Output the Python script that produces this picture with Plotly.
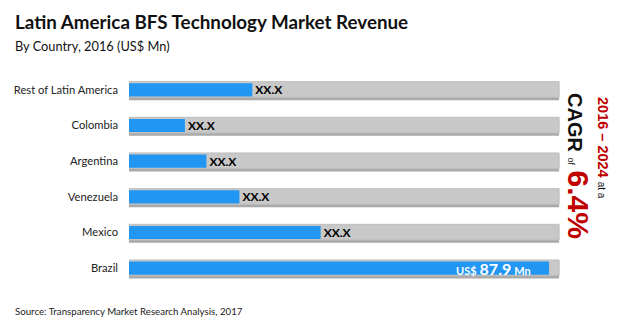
import plotly.graph_objects as go

countries = ["Rest of Latin America", "Colombia", "Argentina", "Venezuela", "Mexico", "Brazil"]
revenue = [25.8, 11.7, 16.2, 23.1, 40.1, 87.9]
track = [90.0] * 6
labels = ["<b>XX.X</b>"] * 5 + [
    "<b><span style='font-size:11px'>US$</span> <span style='font-size:16px'>87.9</span> <span style='font-size:11px'>Mn</span></b>"
    + "\u00a0" * 5]
label_pos = ["outside"] * 5 + ["inside"]
label_col = ["black"] * 5 + ["white"]

W, H = 620, 324
L, R, T, B = 129, 59, 72, 38
pw, ph = W - L - R, H - T - B

def px(x):
    return (x - L) / pw

def py(y):
    return (H - B - y) / ph

fig = go.Figure()
# soft shadow under each track
fig.add_trace(go.Bar(
    y=countries, x=track, orientation="h", width=0.46, offset=-0.23 + 0.06,
    marker=dict(color="#a9a9a9", line=dict(width=0)),
    hoverinfo="skip", showlegend=False,
))
fig.add_trace(go.Bar(
    y=countries, x=track, orientation="h", width=0.44, offset=-0.23,
    marker=dict(color="#c8c8c8", line=dict(color="#bdbdbd", width=1)),
    hoverinfo="skip", showlegend=False,
))
fig.add_trace(go.Bar(
    y=countries, x=revenue, orientation="h", width=0.37,
    marker=dict(color="#2196f3", line=dict(width=0)),
    text=labels, textposition=label_pos, insidetextanchor="end", constraintext="none",
    textfont=dict(family="Lato", size=12, color=label_col),
    cliponaxis=False, showlegend=False,
))

fig.update_layout(
    width=W, height=H, barmode="overlay",
    margin=dict(l=L, r=R, t=T, b=B, pad=0),
    paper_bgcolor="white", plot_bgcolor="white",
    xaxis=dict(range=[0, 90.4], visible=False, fixedrange=True),
    yaxis=dict(autorange="reversed", showgrid=False, zeroline=False, showline=False,
               ticks="", ticklabelstandoff=10,
               tickfont=dict(family="Lato", size=11.2, color="#222222")),
    font=dict(family="Lato"),
)

ann = [
    dict(text="<b>Latin America BFS Technology Market Revenue</b>", x=px(13), y=py(21),
         xanchor="left", yanchor="middle", font=dict(family="Lato", size=18.8, color="#111111")),
    dict(text="By Country, 2016 (US$ Mn)", x=px(13), y=py(46),
         xanchor="left", yanchor="middle", font=dict(family="Lato", size=12.8, color="#111111")),
    dict(text="Source: Transparency Market Research Analysis, 2017", x=px(13), y=py(311),
         xanchor="left", yanchor="middle", font=dict(family="Lato", size=9.7, color="#222222")),
    dict(text="<b>CAGR</b> <span style='font-size:9px'>of</span> <b><span style='color:#c00000;font-size:30px'>6.4%</span></b>",
         x=px(579), y=py(166), textangle=90, xanchor="center", yanchor="middle",
         font=dict(family="Liberation Sans", size=20, color="#111111")),
    dict(text="<b>2016 – 2024</b> <span style='color:#111111;font-size:10px'>at a</span>",
         x=px(603), y=py(148), textangle=90, xanchor="center", yanchor="middle",
         font=dict(family="Liberation Sans", size=14.5, color="#c00000")),
]
for a in ann:
    a.update(xref="paper", yref="paper", showarrow=False)
fig.update_layout(annotations=ann)

fig.write_html("out.html")
